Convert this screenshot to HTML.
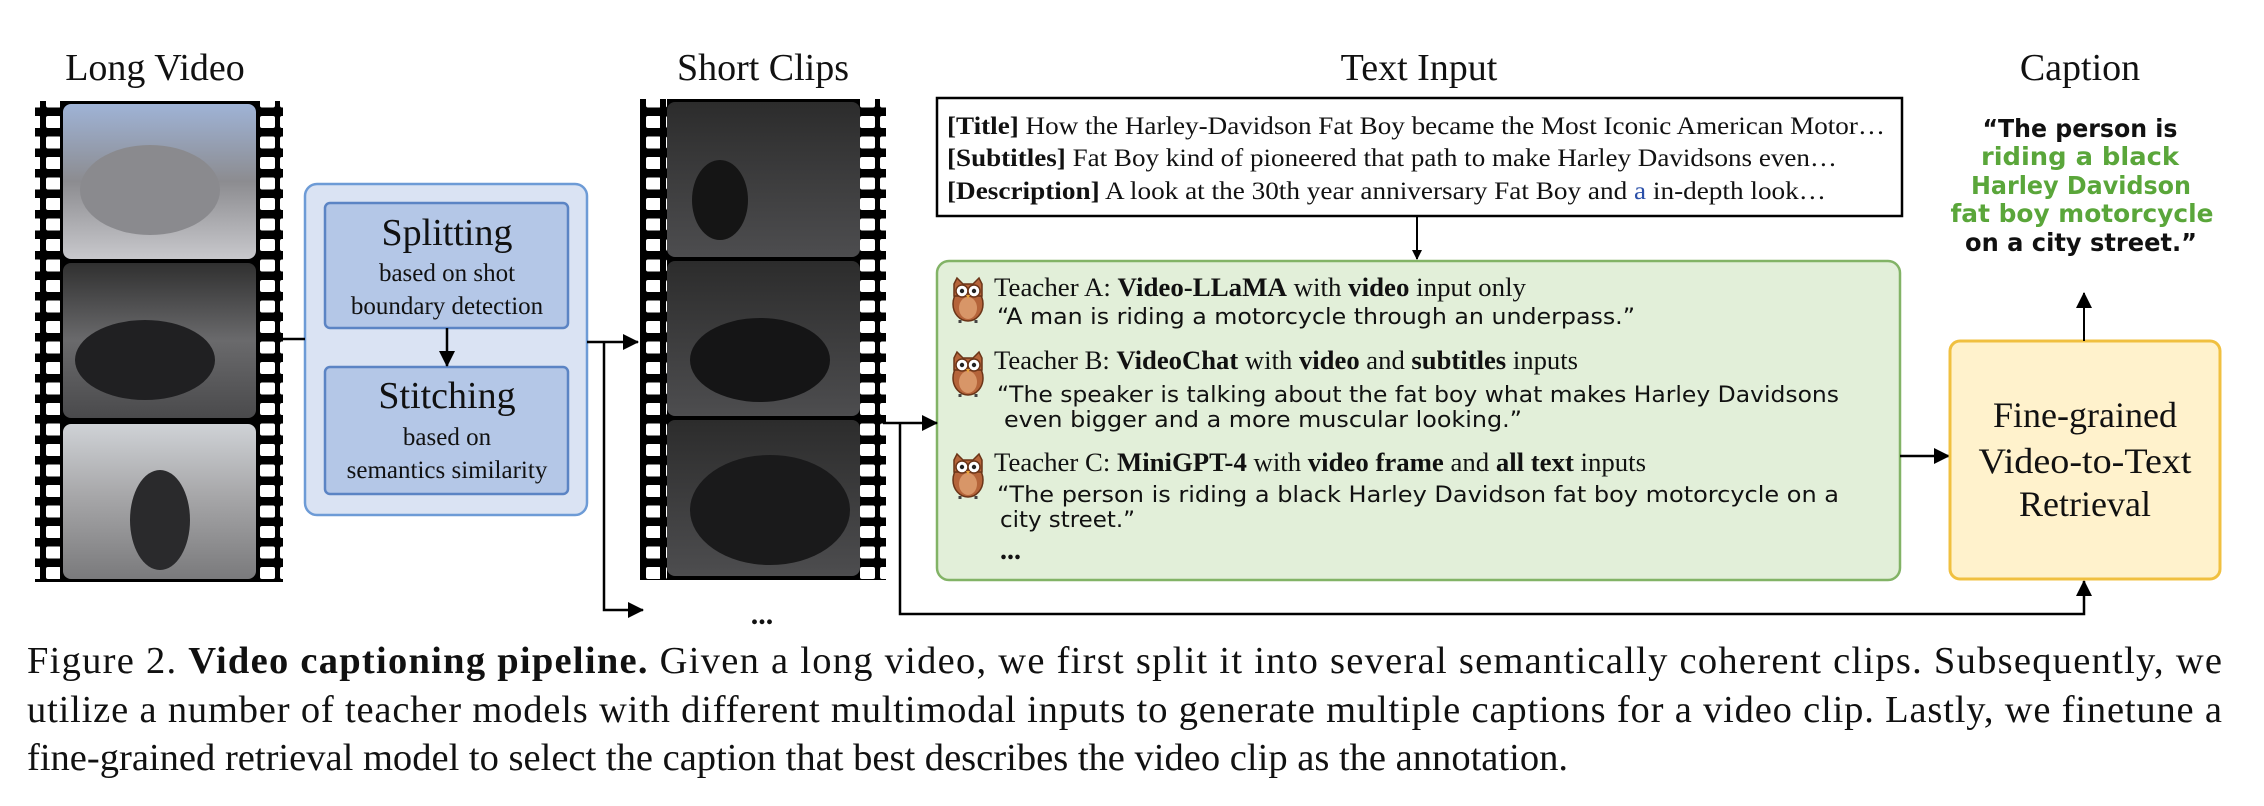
<!DOCTYPE html>
<html><head><meta charset="utf-8"><style>
html,body{margin:0;padding:0;background:#fff;}
svg{display:block;}
.t{font-family:"Liberation Serif",serif;fill:#111;}
.h{font-family:"DejaVu Sans",sans-serif;fill:#111;}
</style></head><body>
<svg width="2264" height="806" viewBox="0 0 2264 806" xmlns="http://www.w3.org/2000/svg">
<defs>
<pattern id="holes" x="0" y="110" width="20" height="20.5" patternUnits="userSpaceOnUse">
<rect x="0" y="0" width="20" height="20.5" fill="#000"/>
<rect x="6" y="6" width="15" height="12" rx="2" fill="#fff"/>
</pattern>
<pattern id="holesR" x="0" y="110" width="20" height="20.5" patternUnits="userSpaceOnUse">
<rect x="0" y="0" width="20" height="20.5" fill="#000"/>
<rect x="0" y="6" width="15" height="12" rx="2" fill="#fff"/>
</pattern>
<linearGradient id="f1" x1="0" y1="0" x2="0" y2="1"><stop offset="0" stop-color="#9fb3d6"/><stop offset="0.5" stop-color="#8c8c90"/><stop offset="1" stop-color="#c8c8cc"/></linearGradient>
<linearGradient id="f2" x1="0" y1="0" x2="0" y2="1"><stop offset="0" stop-color="#303030"/><stop offset="0.5" stop-color="#6a6a6c"/><stop offset="1" stop-color="#4a4a4c"/></linearGradient>
<linearGradient id="f3" x1="0" y1="0" x2="0" y2="1"><stop offset="0" stop-color="#cfd2d6"/><stop offset="0.45" stop-color="#a8a8aa"/><stop offset="1" stop-color="#7a7a7c"/></linearGradient>
<linearGradient id="g1" x1="0" y1="0" x2="0" y2="1"><stop offset="0" stop-color="#2c2c2c"/><stop offset="1" stop-color="#4d4d4f"/></linearGradient>
<marker id="ar" markerWidth="10" markerHeight="10" refX="9" refY="5" orient="auto" markerUnits="userSpaceOnUse"><path d="M0,0 L10,5 L0,10 z" fill="#000"/></marker>
<marker id="arB" markerWidth="16" markerHeight="16" refX="15" refY="8" orient="auto" markerUnits="userSpaceOnUse"><path d="M0,0 L16,8 L0,16 z" fill="#000"/></marker>
<g id="owl">
<ellipse cx="17" cy="28" rx="15" ry="17" fill="#b5643a" stroke="#6b3518" stroke-width="1.5"/>
<ellipse cx="17" cy="32" rx="9" ry="11" fill="#d89668"/>
<path d="M3,8 L6,2 L12,8 L22,8 L28,2 L31,8 L31,20 L3,20 z" fill="#b5643a" stroke="#6b3518" stroke-width="1.5"/>
<circle cx="11" cy="15" r="6" fill="#fff" stroke="#6b3518" stroke-width="1.5"/>
<circle cx="23" cy="15" r="6" fill="#fff" stroke="#6b3518" stroke-width="1.5"/>
<circle cx="11" cy="15" r="2.2" fill="#222"/><circle cx="23" cy="15" r="2.2" fill="#222"/>
<path d="M15,19 L19,19 L17,23 z" fill="#e8a33a"/>
<path d="M9,44 L9,47 M25,44 L25,47" stroke="#444" stroke-width="3"/>
</g>
</defs>

<!-- Titles -->
<text class="t" x="155" y="80" font-size="38" text-anchor="middle">Long Video</text>
<text class="t" x="763" y="80" font-size="38" text-anchor="middle">Short Clips</text>
<text class="t" x="1419" y="80" font-size="38" text-anchor="middle">Text Input</text>
<text class="t" x="2080" y="80" font-size="38" text-anchor="middle">Caption</text>

<!-- Left film strip -->
<rect x="35" y="101" width="248" height="481" fill="#000"/>
<rect x="35" y="101" width="28" height="481" fill="url(#holes)"/>
<rect x="256" y="101" width="27" height="481" fill="url(#holesR)"/>
<rect x="63" y="104" width="193" height="155" rx="8" fill="url(#f1)"/>
<rect x="63" y="263" width="193" height="155" rx="8" fill="url(#f2)"/>
<rect x="63" y="424" width="193" height="155" rx="8" fill="url(#f3)"/>
<ellipse cx="150" cy="190" rx="70" ry="45" fill="#8a8a8e"/>
<ellipse cx="145" cy="360" rx="70" ry="40" fill="#202022"/>
<ellipse cx="160" cy="520" rx="30" ry="50" fill="#2a2a2c"/>

<!-- Right film strip -->
<rect x="640" y="99" width="246" height="481" fill="#000"/>
<rect x="640" y="99" width="27" height="481" fill="url(#holes)"/>
<rect x="860" y="99" width="26" height="481" fill="url(#holesR)"/>
<rect x="667" y="102" width="193" height="155" rx="8" fill="url(#g1)"/>
<rect x="667" y="261" width="193" height="155" rx="8" fill="url(#g1)"/>
<rect x="667" y="420" width="193" height="156" rx="8" fill="url(#g1)"/>
<ellipse cx="720" cy="200" rx="28" ry="40" fill="#151515"/>
<ellipse cx="760" cy="360" rx="70" ry="42" fill="#151516"/>
<ellipse cx="770" cy="510" rx="80" ry="55" fill="#1a1a1b"/>

<!-- Blue box -->
<rect x="305" y="184" width="282" height="331" rx="12" fill="#dae3f3" stroke="#6d9bd6" stroke-width="2.5"/>
<rect x="325" y="203" width="243" height="125" rx="5" fill="#b4c7e7" stroke="#5b84c4" stroke-width="2.5"/>
<rect x="325" y="367" width="243" height="127" rx="5" fill="#b4c7e7" stroke="#5b84c4" stroke-width="2.5"/>
<text class="t" x="447" y="245" font-size="38" text-anchor="middle">Splitting</text>
<text class="t" x="447" y="281" font-size="25" text-anchor="middle">based on shot</text>
<text class="t" x="447" y="314" font-size="25" text-anchor="middle">boundary detection</text>
<text class="t" x="447" y="408" font-size="38" text-anchor="middle">Stitching</text>
<text class="t" x="447" y="445" font-size="25" text-anchor="middle">based on</text>
<text class="t" x="447" y="478" font-size="25" text-anchor="middle">semantics similarity</text>
<line x1="447" y1="328" x2="447" y2="366" stroke="#000" stroke-width="2.5" marker-end="url(#arB)"/>

<!-- connectors left -->
<line x1="283" y1="339" x2="305" y2="339" stroke="#000" stroke-width="2.5"/>
<line x1="587" y1="342" x2="638" y2="342" stroke="#000" stroke-width="2.5" marker-end="url(#arB)"/>
<polyline points="604,342 604,610 643,610" fill="none" stroke="#000" stroke-width="2.5" marker-end="url(#arB)"/>
<text class="t" x="762" y="624" font-size="30" font-weight="bold" text-anchor="middle">...</text>

<!-- Text input box -->
<rect x="937" y="98" width="965" height="118" fill="#fff" stroke="#000" stroke-width="2.5"/>
<text class="t" x="947" y="134" font-size="25" textLength="938" lengthAdjust="spacingAndGlyphs"><tspan font-weight="bold">[Title]</tspan> How the Harley-Davidson Fat Boy became the Most Iconic American Motor…</text>
<text class="t" x="947" y="166" font-size="25" textLength="890" lengthAdjust="spacingAndGlyphs"><tspan font-weight="bold">[Subtitles]</tspan> Fat Boy kind of pioneered that path to make Harley Davidsons even…</text>
<text class="t" x="947" y="199" font-size="25" textLength="879" lengthAdjust="spacingAndGlyphs"><tspan font-weight="bold">[Description]</tspan> A look at the 30th year anniversary Fat Boy and <tspan fill="#2a4fa8">a</tspan> in-depth look…</text>
<line x1="1417" y1="216" x2="1417" y2="259" stroke="#000" stroke-width="2" marker-end="url(#ar)"/>

<!-- Green box -->
<rect x="937" y="261" width="963" height="319" rx="12" fill="#e2efd9" stroke="#82b366" stroke-width="2.5"/>
<use href="#owl" x="951" y="276"/>
<use href="#owl" x="951" y="350"/>
<use href="#owl" x="951" y="452"/>
<text class="t" x="994" y="296" font-size="26" textLength="532" lengthAdjust="spacingAndGlyphs">Teacher A: <tspan font-weight="bold">Video-LLaMA</tspan> with <tspan font-weight="bold">video</tspan> input only</text>
<text class="h" x="997" y="324" font-size="22" textLength="638" lengthAdjust="spacingAndGlyphs">“A man is riding a motorcycle through an underpass.”</text>
<text class="t" x="994" y="369" font-size="26" textLength="584" lengthAdjust="spacingAndGlyphs">Teacher B: <tspan font-weight="bold">VideoChat</tspan> with <tspan font-weight="bold">video</tspan> and <tspan font-weight="bold">subtitles</tspan> inputs</text>
<text class="h" x="997" y="402" font-size="22" textLength="842" lengthAdjust="spacingAndGlyphs">“The speaker is talking about the fat boy what makes Harley Davidsons</text>
<text class="h" x="1004" y="427" font-size="22" textLength="518" lengthAdjust="spacingAndGlyphs">even bigger and a more muscular looking.”</text>
<text class="t" x="994" y="471" font-size="26" textLength="652" lengthAdjust="spacingAndGlyphs">Teacher C: <tspan font-weight="bold">MiniGPT-4</tspan> with <tspan font-weight="bold">video frame</tspan> and <tspan font-weight="bold">all text</tspan> inputs</text>
<text class="h" x="997" y="502" font-size="22" textLength="842" lengthAdjust="spacingAndGlyphs">“The person is riding a black Harley Davidson fat boy motorcycle on a</text>
<text class="h" x="1000" y="527" font-size="22" textLength="135" lengthAdjust="spacingAndGlyphs">city street.”</text>
<text class="t" x="1000" y="559" font-size="28" font-weight="bold">...</text>

<!-- connectors right -->
<polyline points="883,423 900,423 937,423" fill="none" stroke="#000" stroke-width="2.5" marker-end="url(#arB)"/>
<polyline points="900,423 900,614 2084,614 2084,581" fill="none" stroke="#000" stroke-width="2.5" marker-end="url(#arB)"/>
<line x1="1900" y1="456" x2="1949" y2="456" stroke="#000" stroke-width="2.5" marker-end="url(#arB)"/>

<!-- Yellow box -->
<rect x="1950" y="341" width="270" height="238" rx="10" fill="#fff2cc" stroke="#f0c040" stroke-width="3"/>
<text class="t" x="2085" y="427" font-size="36" text-anchor="middle">Fine-grained</text>
<text class="t" x="2085" y="473" font-size="36" text-anchor="middle" textLength="213" lengthAdjust="spacingAndGlyphs">Video-to-Text</text>
<text class="t" x="2085" y="516" font-size="36" text-anchor="middle">Retrieval</text>
<line x1="2084" y1="341" x2="2084" y2="293" stroke="#000" stroke-width="2" marker-end="url(#arB)"/>

<!-- Caption -->
<text class="h" x="2080" y="137" font-size="25" text-anchor="middle" font-weight="bold" textLength="195" lengthAdjust="spacingAndGlyphs">“The person is</text>
<text class="h" x="2080" y="165" font-size="25" text-anchor="middle" font-weight="bold" style="fill:#5aa63a" textLength="198" lengthAdjust="spacingAndGlyphs">riding a black</text>
<text class="h" x="2081" y="194" font-size="25" text-anchor="middle" font-weight="bold" style="fill:#5aa63a" textLength="220" lengthAdjust="spacingAndGlyphs">Harley Davidson</text>
<text class="h" x="2082" y="222" font-size="25" text-anchor="middle" font-weight="bold" style="fill:#5aa63a" textLength="263" lengthAdjust="spacingAndGlyphs">fat boy motorcycle</text>
<text class="h" x="2081" y="251" font-size="25" text-anchor="middle" font-weight="bold" textLength="232" lengthAdjust="spacingAndGlyphs">on a city street.”</text>

<!-- Figure caption -->
<text class="t" x="27" y="673" font-size="38.5" textLength="2195" lengthAdjust="spacing">Figure 2.  <tspan font-weight="bold">Video captioning pipeline.</tspan>  Given a long video, we first split it into several semantically coherent clips.  Subsequently, we</text>
<text class="t" x="27" y="722" font-size="38.5" textLength="2195" lengthAdjust="spacing">utilize a number of teacher models with different multimodal inputs to generate multiple captions for a video clip.  Lastly, we finetune a</text>
<text class="t" x="27" y="770" font-size="38.5" textLength="1541" lengthAdjust="spacingAndGlyphs">fine-grained retrieval model to select the caption that best describes the video clip as the annotation.</text>
</svg>
</body></html>
